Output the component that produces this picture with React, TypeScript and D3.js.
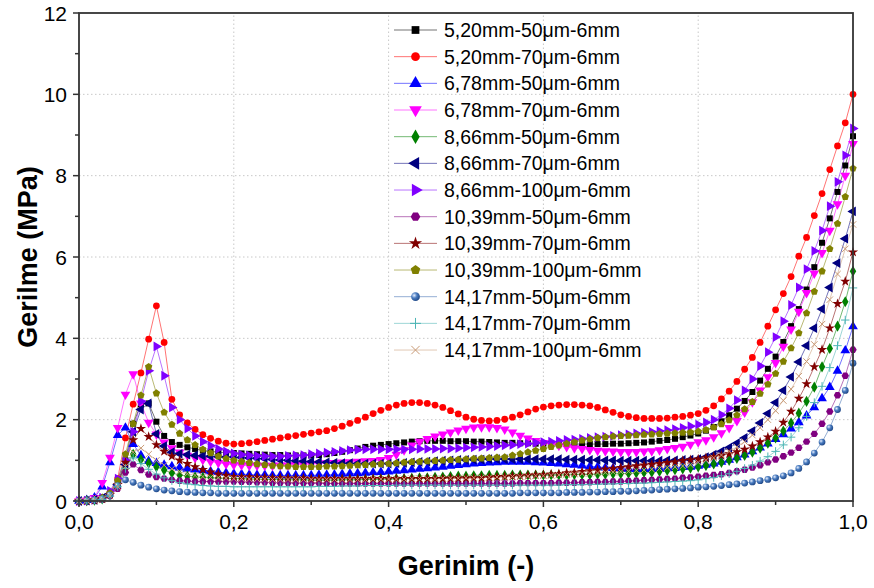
import React from "react";
import * as d3 from "d3";

// strain sampling (every 0.01)
const strain = d3.range(0, 101).map((i) => i / 100);

const labels = [
  "5,20mm-50μm-6mm",
  "5,20mm-70μm-6mm",
  "6,78mm-50μm-6mm",
  "6,78mm-70μm-6mm",
  "8,66mm-50μm-6mm",
  "8,66mm-70μm-6mm",
  "8,66mm-100μm-6mm",
  "10,39mm-50μm-6mm",
  "10,39mm-70μm-6mm",
  "10,39mm-100μm-6mm",
  "14,17mm-50μm-6mm",
  "14,17mm-70μm-6mm",
  "14,17mm-100μm-6mm",
];

const s520_50 = [
  0, 0.01, 0.03, 0.08, 0.2, 0.45, 1.0, 1.9, 2.38, 2.4,
  1.95, 1.6, 1.45, 1.38, 1.32, 1.28, 1.24, 1.22, 1.2, 1.19,
  1.18, 1.17, 1.16, 1.15, 1.14, 1.13, 1.13, 1.12, 1.12, 1.12,
  1.12, 1.13, 1.15, 1.18, 1.21, 1.25, 1.29, 1.33, 1.36, 1.38,
  1.4, 1.42, 1.44, 1.46, 1.47, 1.48, 1.48, 1.48, 1.47, 1.47,
  1.47, 1.46, 1.46, 1.45, 1.44, 1.43, 1.43, 1.42, 1.42, 1.41,
  1.41, 1.41, 1.4, 1.4, 1.4, 1.4, 1.4, 1.4, 1.4, 1.41,
  1.41, 1.42, 1.43, 1.44, 1.46, 1.48, 1.5, 1.53, 1.57, 1.61,
  1.66, 1.73, 1.82, 1.96, 2.11, 2.27, 2.46, 2.68, 2.96, 3.25,
  3.55, 3.91, 4.3, 4.72, 5.2, 5.75, 6.35, 6.95, 7.6, 8.25,
  8.97,
];
const s520_70 = [
  0, 0.01, 0.02, 0.04, 0.2, 0.55, 1.55, 2.38, 3.15, 3.98,
  4.8, 3.9, 2.5, 2.12, 1.92, 1.76, 1.63, 1.54, 1.47, 1.42,
  1.4, 1.41, 1.43, 1.46, 1.49, 1.52, 1.55, 1.58, 1.61, 1.64,
  1.67, 1.7, 1.73, 1.78, 1.84, 1.91, 1.98, 2.06, 2.15, 2.23,
  2.3, 2.36, 2.4, 2.42, 2.42, 2.4, 2.36, 2.3, 2.22, 2.14,
  2.06, 2.01, 1.98, 1.97, 1.98, 2.01, 2.06, 2.12, 2.19, 2.26,
  2.31, 2.34, 2.36, 2.37, 2.37, 2.36, 2.34, 2.3, 2.24, 2.18,
  2.12, 2.08, 2.05, 2.03, 2.03, 2.03, 2.04, 2.06, 2.08, 2.11,
  2.15, 2.23, 2.34, 2.51, 2.7, 2.94, 3.24, 3.53, 3.9, 4.3,
  4.7, 5.1, 5.52, 6.02, 6.48, 7.02, 7.56, 8.15, 8.73, 9.3,
  10.0,
];
const s678_50 = [
  0, 0.02, 0.08, 0.35, 0.95, 1.62, 1.8, 1.4, 1.12, 0.98,
  0.93, 0.89, 0.85, 0.82, 0.79, 0.77, 0.75, 0.73, 0.71, 0.69,
  0.67, 0.66, 0.65, 0.64, 0.64, 0.63, 0.63, 0.63, 0.63, 0.63,
  0.63, 0.64, 0.64, 0.65, 0.66, 0.67, 0.68, 0.69, 0.7, 0.71,
  0.72, 0.74, 0.75, 0.77, 0.79, 0.8, 0.82, 0.84, 0.86, 0.88,
  0.9, 0.92, 0.93, 0.94, 0.95, 0.96, 0.96, 0.96, 0.96, 0.95,
  0.94, 0.93, 0.92, 0.9, 0.89, 0.87, 0.85, 0.84, 0.82, 0.81,
  0.8, 0.79, 0.78, 0.78, 0.78, 0.79, 0.8, 0.81, 0.83, 0.84,
  0.86, 0.89, 0.92, 0.96, 1.01, 1.07, 1.14, 1.22, 1.31, 1.41,
  1.52, 1.64, 1.78, 1.93, 2.1, 2.3, 2.52, 2.8, 3.2, 3.7,
  4.29,
];
const s678_70 = [
  0, 0.01, 0.08, 0.45, 1.07, 1.8, 2.62, 3.12, 2.4, 1.93,
  1.64, 1.44, 1.3, 1.2, 1.12, 1.06, 1.01, 0.97, 0.94, 0.91,
  0.89, 0.88, 0.87, 0.87, 0.87, 0.87, 0.88, 0.88, 0.89, 0.9,
  0.91, 0.92, 0.93, 0.94, 0.95, 0.96, 0.97, 0.98, 0.99, 1.01,
  1.06, 1.14, 1.25, 1.37, 1.46, 1.53, 1.59, 1.64, 1.69, 1.74,
  1.78, 1.81, 1.82, 1.82, 1.8, 1.76, 1.69, 1.61, 1.54, 1.48,
  1.43, 1.39, 1.36, 1.33, 1.3, 1.28, 1.26, 1.24, 1.23, 1.22,
  1.21, 1.21, 1.21, 1.22, 1.23, 1.25, 1.28, 1.31, 1.34, 1.39,
  1.45, 1.5, 1.57, 1.67, 1.8, 1.97, 2.18, 2.43, 2.72, 3.05,
  3.4, 3.8, 4.22, 4.66, 5.12, 5.6, 6.1, 6.65, 7.3, 8.0,
  8.78,
];
const s866_50 = [
  0, 0.01, 0.02, 0.05, 0.15, 0.35, 0.8, 1.15, 1.02, 0.93,
  0.84, 0.76, 0.69, 0.64, 0.61, 0.59, 0.58, 0.57, 0.56, 0.56,
  0.55, 0.55, 0.54, 0.54, 0.53, 0.53, 0.53, 0.52, 0.52, 0.52,
  0.51, 0.51, 0.51, 0.51, 0.52, 0.52, 0.52, 0.53, 0.53, 0.54,
  0.54, 0.55, 0.55, 0.56, 0.57, 0.57, 0.58, 0.59, 0.6, 0.61,
  0.61, 0.62, 0.62, 0.63, 0.63, 0.63, 0.64, 0.64, 0.64, 0.64,
  0.64, 0.64, 0.64, 0.64, 0.65, 0.65, 0.65, 0.66, 0.66, 0.67,
  0.67, 0.68, 0.69, 0.7, 0.71, 0.73, 0.75, 0.77, 0.79, 0.81,
  0.84, 0.87, 0.91, 0.95, 1.0, 1.05, 1.12, 1.2, 1.3, 1.42,
  1.55, 1.72, 1.92, 2.16, 2.45, 2.8, 3.3, 3.75, 4.3, 4.9,
  5.65,
];
const s866_70 = [
  0, 0.01, 0.03, 0.07, 0.18, 0.4, 0.9, 1.7, 2.25, 2.4,
  1.65, 1.35, 1.2, 1.16, 1.14, 1.12, 1.11, 1.1, 1.09, 1.08,
  1.08, 1.07, 1.06, 1.05, 1.04, 1.02, 1.01, 1.0, 0.99, 0.98,
  0.97, 0.96, 0.95, 0.94, 0.93, 0.93, 0.92, 0.92, 0.92, 0.92,
  0.92, 0.93, 0.94, 0.95, 0.96, 0.97, 0.98, 0.99, 1.0, 1.01,
  1.01, 1.02, 1.02, 1.03, 1.03, 1.03, 1.03, 1.03, 1.03, 1.03,
  1.03, 1.03, 1.03, 1.02, 1.02, 1.02, 1.01, 1.01, 1.0, 1.0,
  0.99, 0.99, 0.99, 0.99, 0.99, 0.99, 1.0, 1.0, 1.01, 1.02,
  1.03, 1.08, 1.14, 1.22, 1.31, 1.42, 1.55, 1.72, 1.92, 2.15,
  2.42, 2.72, 3.05, 3.42, 3.82, 4.25, 4.72, 5.25, 5.85, 6.45,
  7.12,
];
const s866_100 = [
  0, 0.01, 0.03, 0.08, 0.25, 0.55, 1.0, 1.7, 2.45, 3.2,
  3.8, 3.08, 2.3, 2.0, 1.78, 1.6, 1.46, 1.36, 1.28, 1.22,
  1.17, 1.14, 1.12, 1.11, 1.1, 1.1, 1.1, 1.11, 1.12, 1.13,
  1.15, 1.17, 1.19, 1.21, 1.23, 1.25, 1.26, 1.27, 1.27, 1.27,
  1.27, 1.27, 1.27, 1.27, 1.28, 1.28, 1.28, 1.29, 1.29, 1.3,
  1.31, 1.32, 1.33, 1.34, 1.35, 1.37, 1.38, 1.4, 1.41, 1.43,
  1.45, 1.46, 1.48, 1.5, 1.51, 1.53, 1.55, 1.57, 1.58, 1.6,
  1.62, 1.64, 1.66, 1.68, 1.7, 1.72, 1.74, 1.77, 1.8, 1.84,
  1.88, 1.93, 2.0, 2.12, 2.28, 2.48, 2.72, 3.0, 3.32, 3.66,
  4.03, 4.42, 4.82, 5.25, 5.7, 6.15, 6.65, 7.25, 7.85, 8.5,
  9.16,
];
const s1039_50 = [
  0, 0.01, 0.02, 0.04, 0.12, 0.3, 0.7, 0.9, 0.76, 0.65,
  0.59, 0.55, 0.52, 0.5, 0.49, 0.48, 0.48, 0.48, 0.48, 0.48,
  0.48, 0.47, 0.47, 0.46, 0.46, 0.45, 0.45, 0.45, 0.44, 0.44,
  0.44, 0.44, 0.43, 0.43, 0.43, 0.43, 0.43, 0.43, 0.43, 0.43,
  0.43, 0.43, 0.43, 0.43, 0.43, 0.43, 0.43, 0.43, 0.43, 0.43,
  0.43, 0.43, 0.43, 0.43, 0.43, 0.43, 0.43, 0.44, 0.44, 0.44,
  0.44, 0.44, 0.45, 0.45, 0.45, 0.46, 0.46, 0.47, 0.47, 0.48,
  0.48, 0.49, 0.5, 0.51, 0.52, 0.53, 0.54, 0.55, 0.57, 0.58,
  0.6, 0.62, 0.64, 0.66, 0.69, 0.73, 0.77, 0.82, 0.88, 0.95,
  1.02, 1.1, 1.19, 1.31, 1.46, 1.65, 1.9, 2.2, 2.6, 3.08,
  3.72,
];
const s1039_70 = [
  0, 0.01, 0.02, 0.05, 0.15, 0.4, 0.95, 1.5, 1.78, 1.58,
  1.38, 1.22, 1.1, 1.0, 0.92, 0.84, 0.77, 0.71, 0.66, 0.63,
  0.6, 0.59, 0.59, 0.58, 0.58, 0.57, 0.57, 0.56, 0.56, 0.56,
  0.55, 0.55, 0.55, 0.55, 0.55, 0.55, 0.55, 0.55, 0.55, 0.55,
  0.55, 0.55, 0.55, 0.55, 0.55, 0.55, 0.55, 0.55, 0.56, 0.56,
  0.56, 0.57, 0.57, 0.58, 0.59, 0.6, 0.61, 0.62, 0.63, 0.64,
  0.65, 0.66, 0.67, 0.69, 0.7, 0.72, 0.74, 0.76, 0.78, 0.8,
  0.82, 0.84, 0.86, 0.88, 0.9, 0.92, 0.94, 0.96, 0.99, 1.01,
  1.03, 1.06, 1.09, 1.12, 1.16, 1.21, 1.27, 1.35, 1.45, 1.57,
  1.71, 1.93, 2.2, 2.52, 2.88, 3.3, 3.72, 4.25, 4.85, 5.4,
  6.12,
];
const s1039_100 = [
  0, 0.01, 0.03, 0.08, 0.2, 0.5, 1.15, 1.9, 2.6, 3.3,
  2.65, 2.18, 1.88, 1.66, 1.5, 1.38, 1.27, 1.18, 1.1, 1.04,
  1.0, 0.97, 0.94, 0.91, 0.89, 0.87, 0.86, 0.85, 0.84, 0.84,
  0.84, 0.84, 0.85, 0.85, 0.86, 0.87, 0.88, 0.89, 0.9, 0.91,
  0.92, 0.93, 0.95, 0.96, 0.97, 0.98, 0.99, 1.0, 1.01, 1.02,
  1.03, 1.04, 1.05, 1.06, 1.07, 1.08, 1.12, 1.16, 1.2, 1.24,
  1.28, 1.33, 1.37, 1.41, 1.45, 1.49, 1.52, 1.55, 1.57, 1.59,
  1.6, 1.61, 1.62, 1.63, 1.64, 1.65, 1.66, 1.67, 1.68, 1.69,
  1.71, 1.75, 1.81, 1.89, 1.99, 2.11, 2.26, 2.44, 2.64, 2.87,
  3.13, 3.43, 3.76, 4.13, 4.62, 5.15, 5.65, 6.2, 6.82, 7.48,
  8.18,
];
const s1417_50 = [
  0, 0.01, 0.02, 0.05, 0.15, 0.38, 0.52, 0.46, 0.39, 0.34,
  0.3, 0.27, 0.25, 0.23, 0.22, 0.21, 0.2, 0.2, 0.19, 0.19,
  0.19, 0.19, 0.19, 0.19, 0.19, 0.19, 0.19, 0.19, 0.19, 0.19,
  0.19, 0.19, 0.19, 0.19, 0.19, 0.19, 0.19, 0.19, 0.19, 0.19,
  0.19, 0.19, 0.19, 0.19, 0.19, 0.19, 0.19, 0.19, 0.19, 0.19,
  0.19, 0.19, 0.19, 0.19, 0.19, 0.19, 0.19, 0.2, 0.2, 0.2,
  0.2, 0.2, 0.2, 0.21, 0.21, 0.21, 0.22, 0.22, 0.23, 0.23,
  0.24, 0.24, 0.25, 0.26, 0.27, 0.28, 0.29, 0.3, 0.31, 0.32,
  0.34, 0.35, 0.36, 0.38, 0.4, 0.42, 0.44, 0.47, 0.5, 0.53,
  0.57, 0.62, 0.69, 0.8, 0.96, 1.18, 1.45, 1.8, 2.25, 2.72,
  3.39,
];
const s1417_70 = [
  0, 0.01, 0.02, 0.04, 0.12, 0.35, 0.8, 1.06, 0.92, 0.78,
  0.66, 0.57, 0.5, 0.45, 0.42, 0.4, 0.38, 0.37, 0.36, 0.36,
  0.35, 0.35, 0.35, 0.35, 0.35, 0.35, 0.35, 0.35, 0.35, 0.35,
  0.35, 0.36, 0.36, 0.36, 0.37, 0.37, 0.37, 0.38, 0.38, 0.38,
  0.38, 0.39, 0.39, 0.39, 0.39, 0.39, 0.39, 0.39, 0.39, 0.39,
  0.39, 0.39, 0.39, 0.39, 0.39, 0.39, 0.39, 0.39, 0.39, 0.39,
  0.39, 0.39, 0.39, 0.4, 0.4, 0.4, 0.41, 0.41, 0.42, 0.42,
  0.43, 0.43, 0.44, 0.44, 0.45, 0.46, 0.47, 0.48, 0.49, 0.5,
  0.52, 0.55, 0.58, 0.62, 0.67, 0.73, 0.8, 0.88, 0.98, 1.09,
  1.22, 1.38, 1.57, 1.8, 2.08, 2.42, 2.82, 3.28, 3.82, 4.45,
  5.24,
];
const s1417_100 = [
  0, 0.01, 0.02, 0.04, 0.12, 0.35, 0.85, 1.2, 1.3, 1.15,
  1.0, 0.88, 0.79, 0.72, 0.67, 0.63, 0.6, 0.58, 0.57, 0.56,
  0.55, 0.55, 0.54, 0.54, 0.54, 0.53, 0.53, 0.53, 0.53, 0.53,
  0.53, 0.53, 0.53, 0.53, 0.53, 0.53, 0.53, 0.53, 0.54, 0.54,
  0.54, 0.54, 0.54, 0.55, 0.55, 0.55, 0.55, 0.56, 0.56, 0.56,
  0.57, 0.57, 0.58, 0.58, 0.59, 0.59, 0.6, 0.6, 0.61, 0.62,
  0.62, 0.63, 0.64, 0.65, 0.66, 0.67, 0.68, 0.69, 0.7, 0.71,
  0.72, 0.73, 0.75, 0.76, 0.78, 0.8, 0.82, 0.84, 0.86, 0.89,
  0.95, 1.0, 1.06, 1.13, 1.22, 1.33, 1.46, 1.62, 1.8, 2.0,
  2.22, 2.47, 2.75, 3.07, 3.43, 3.85, 4.35, 4.95, 5.58, 6.2,
  6.8,
];

const values = [
  s520_50, s520_70, s678_50, s678_70, s866_50, s866_70, s866_100,
  s1039_50, s1039_70, s1039_100, s1417_50, s1417_70, s1417_100,
];

const xTickValues = [0, 0.2, 0.4, 0.6, 0.8, 1.0];
const yTickValues = [0, 2, 4, 6, 8, 10, 12];

// styling
const colors = [
  "#000000", "#ff0000", "#0000ff", "#ff00ff", "#008000", "#000080", "#8000ff",
  "#800080", "#800000", "#808000", "#3b6cb0", "#4cb5b5", "#c89a76",
];
const shapes = [
  "square", "circle", "triUp", "triDown", "diamond", "triLeft", "triRight",
  "hexagon", "star", "pentagon", "sphere", "plus", "cross",
];

const W = 874;
const H = 588;
const margin = { top: 13, right: 21, bottom: 87, left: 79 };
const FONT = "'Liberation Sans', Arial, Helvetica, sans-serif";

function polygon(n: number, r: number, startDeg: number) {
  const pts = d3.range(n).map((k) => {
    const a = ((startDeg + (360 / n) * k) * Math.PI) / 180;
    return [r * Math.cos(a), r * Math.sin(a)];
  });
  return "M" + pts.map((p) => p[0].toFixed(2) + "," + p[1].toFixed(2)).join("L") + "Z";
}

function Marker({ shape, color, x, y, size }: any) {
  const t = `translate(${x},${y})`;
  const r = Math.sqrt(size / Math.PI);
  switch (shape) {
    case "square":
      return <path transform={t} d={d3.symbol(d3.symbolSquare, size)()!} fill={color} />;
    case "circle":
      return <circle cx={x} cy={y} r={r} fill={color} />;
    case "sphere":
      return <circle cx={x} cy={y} r={r} fill="url(#ball)" />;
    case "triUp":
      return <path transform={t} d={d3.symbol(d3.symbolTriangle, size * 1.15)()!} fill={color} />;
    case "triDown":
      return <path transform={t + " rotate(180)"} d={d3.symbol(d3.symbolTriangle, size * 1.15)()!} fill={color} />;
    case "triLeft":
      return <path transform={t + " rotate(-90)"} d={d3.symbol(d3.symbolTriangle, size * 1.15)()!} fill={color} />;
    case "triRight":
      return <path transform={t + " rotate(90)"} d={d3.symbol(d3.symbolTriangle, size * 1.15)()!} fill={color} />;
    case "diamond":
      return <path transform={t} d={d3.symbol(d3.symbolDiamond, size)()!} fill={color} />;
    case "star":
      return <path transform={t} d={d3.symbol(d3.symbolStar, size * 0.9)()!} fill={color} />;
    case "hexagon":
      return <path transform={t} d={polygon(6, Math.sqrt(size / 2.598), 0)} fill={color} />;
    case "pentagon":
      return <path transform={t} d={polygon(5, Math.sqrt(size / 2.378), -90)} fill={color} />;
    case "plus": {
      const h = r * 1.25;
      return <path transform={t} d={`M${-h},0L${h},0M0,${-h}L0,${h}`} stroke={color} strokeWidth={1} fill="none" />;
    }
    case "cross": {
      const h = r * 0.95;
      return <path transform={t} d={`M${-h},${-h}L${h},${h}M${-h},${h}L${h},${-h}`} stroke={color} strokeWidth={1} fill="none" />;
    }
    default:
      return null;
  }
}

export default function App() {
  const x = d3.scaleLinear().domain([0, 1]).range([margin.left, W - margin.right]);
  const y = d3.scaleLinear().domain([0, 12]).range([H - margin.bottom, margin.top]);
  const fmtX = (v: number) => d3.format(".1f")(v).replace(".", ",");

  const line = d3
    .line<number>()
    .x((_, i) => x(strain[i]))
    .y((d) => y(d));

  const x0 = x(0);
  const x1 = x(1);
  const y0 = y(0);
  const y1 = y(12);

  const minorX = x.ticks(10).filter((t) => !xTickValues.some((m) => Math.abs(m - t) < 1e-6));
  const minorY = d3.range(1, 12, 2);

  const legendX = 394;
  const legendTop = 30;
  const legendStep = 26.67;

  return (
    <svg
      width={W}
      height={H}
      style={{ position: "absolute", left: 0, top: 0, background: "#fff" }}
      fontFamily={FONT}
    >
      <defs>
        <radialGradient id="ball" cx="35%" cy="35%" r="70%">
          <stop offset="0%" stopColor="#e8f0ff" />
          <stop offset="45%" stopColor="#4a7cc0" />
          <stop offset="100%" stopColor="#1d4584" />
        </radialGradient>
        <clipPath id="plotClip">
          <rect x={x0 - 6} y={y1 - 6} width={x1 - x0 + 12} height={y0 - y1 + 12} />
        </clipPath>
      </defs>
      <rect width={W} height={H} fill="#fff" />

      {/* grid */}
      <g stroke="#c8c8c8" strokeWidth={1} strokeDasharray="1.5,2.5">
        {xTickValues.slice(1, -1).map((t) => (
          <line key={"gx" + t} x1={x(t)} x2={x(t)} y1={y0} y2={y1} />
        ))}
        {yTickValues.slice(1, -1).map((t) => (
          <line key={"gy" + t} x1={x0} x2={x1} y1={y(t)} y2={y(t)} />
        ))}
      </g>

      {/* series */}
      <g clipPath="url(#plotClip)">
        {values.map((vals, si) => (
          <path
            key={"l" + si}
            d={line(vals)!}
            fill="none"
            stroke={colors[si]}
            strokeOpacity={0.55}
            strokeWidth={1}
          />
        ))}
        {values.map((vals, si) => (
          <g key={"m" + si}>
            {vals.map((v, i) => (
              <Marker
                key={i}
                shape={shapes[si]}
                color={colors[si]}
                x={x(strain[i])}
                y={y(v)}
                size={36}
              />
            ))}
          </g>
        ))}
      </g>

      {/* frame */}
      <rect x={x0} y={y1} width={x1 - x0} height={y0 - y1} fill="none" stroke="#333" strokeWidth={1.8} />

      {/* ticks */}
      <g stroke="#333" strokeWidth={1.5}>
        {xTickValues.map((t) => (
          <line key={"xt" + t} x1={x(t)} x2={x(t)} y1={y0} y2={y0 + 6} />
        ))}
        {minorX.map((t) => (
          <line key={"xm" + t} x1={x(t)} x2={x(t)} y1={y0} y2={y0 + 4} />
        ))}
        {yTickValues.map((t) => (
          <line key={"yt" + t} x1={x0 - 6} x2={x0} y1={y(t)} y2={y(t)} />
        ))}
        {minorY.map((t) => (
          <line key={"ym" + t} x1={x0 - 4} x2={x0} y1={y(t)} y2={y(t)} />
        ))}
      </g>
      <g fontSize={21} fill="#000">
        {xTickValues.map((t) => (
          <text key={"xl" + t} x={x(t)} y={y0 + 28} textAnchor="middle">
            {fmtX(t)}
          </text>
        ))}
        {yTickValues.map((t) => (
          <text key={"yl" + t} x={x0 - 12} y={y(t) + 7.5} textAnchor="end">
            {t}
          </text>
        ))}
      </g>

      {/* axis titles */}
      <text x={(x0 + x1) / 2} y={575} textAnchor="middle" fontSize={27} fontWeight="bold">
        Gerinim (-)
      </text>
      <text
        transform={`translate(37,${(y0 + y1) / 2}) rotate(-90)`}
        textAnchor="middle"
        fontSize={27}
        fontWeight="bold"
      >
        Gerilme (MPa)
      </text>

      {/* legend */}
      <g>
        {labels.map((lab, i) => {
          const cy = legendTop + i * legendStep;
          return (
            <g key={"lg" + i}>
              <line
                x1={legendX}
                x2={legendX + 43}
                y1={cy}
                y2={cy}
                stroke={colors[i]}
                strokeOpacity={0.55}
                strokeWidth={1}
              />
              <Marker shape={shapes[i]} color={colors[i]} x={legendX + 21.5} y={cy} size={60} />
              <text x={legendX + 50} y={cy + 7} fontSize={19.5}>
                {lab}
              </text>
            </g>
          );
        })}
      </g>
    </svg>
  );
}
